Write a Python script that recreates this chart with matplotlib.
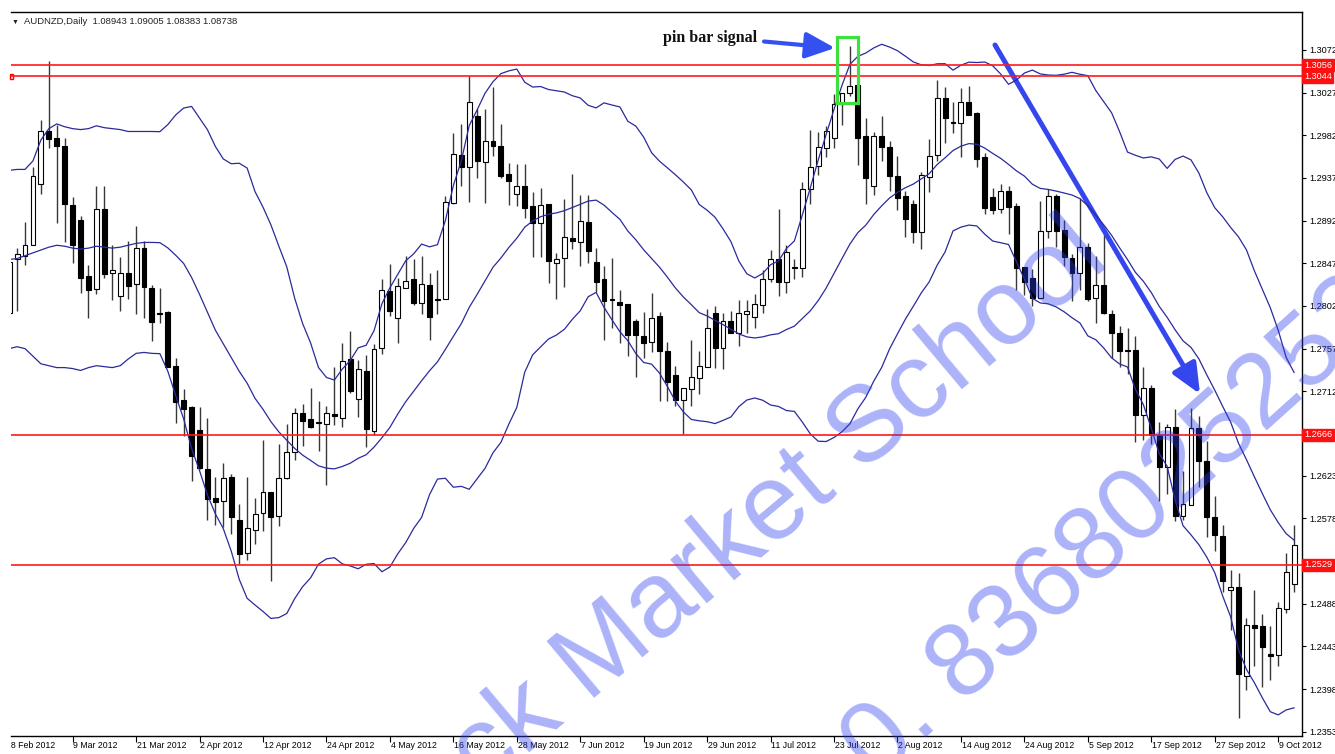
import matplotlib
matplotlib.use('Agg')
import matplotlib.pyplot as plt
import numpy as np
import pandas as pd
from matplotlib.patches import Rectangle
from matplotlib.transforms import Bbox, TransformedBbox, blended_transform_factory

plt.rcParams['font.family'] = ['Liberation Sans', 'DejaVu Sans']

# daily candles AUDNZD, 28 Feb 2012 .. 11 Oct 2012
opens = [1.2795, 1.2851, 1.2855, 1.2866, 1.2931, 1.2987, 1.2979, 1.2971, 1.2908, 1.2893,
         1.2834, 1.2820, 1.2904, 1.2837, 1.2812, 1.2837, 1.2825, 1.2863, 1.2821, 1.2795,
         1.2796, 1.2739, 1.2703, 1.2695, 1.2671, 1.2630, 1.2599, 1.2596, 1.2622, 1.2576,
         1.2541, 1.2566, 1.2584, 1.2606, 1.2580, 1.2621, 1.2648, 1.2689, 1.2683, 1.2680,
         1.2677, 1.2688, 1.2684, 1.2746, 1.2704, 1.2733, 1.2670, 1.2758, 1.2818, 1.2789,
         1.2821, 1.2830, 1.2805, 1.2824, 1.2809, 1.2809, 1.2911, 1.2961, 1.2949, 1.3002,
         1.2954, 1.2976, 1.2971, 1.2941, 1.2920, 1.2928, 1.2907, 1.2889, 1.2910, 1.2847,
         1.2853, 1.2874, 1.2869, 1.2891, 1.2848, 1.2830, 1.2809, 1.2806, 1.2804, 1.2786,
         1.2770, 1.2764, 1.2791, 1.2754, 1.2729, 1.2703, 1.2714, 1.2726, 1.2738, 1.2795,
         1.2758, 1.2786, 1.2773, 1.2794, 1.2790, 1.2803, 1.2830, 1.2852, 1.2827, 1.2843,
         1.2842, 1.2925, 1.2950, 1.2969, 1.2979, 1.3015, 1.3027, 1.3035, 1.2981, 1.2928,
         1.2981, 1.2970, 1.2939, 1.2918, 1.2910, 1.2880, 1.2938, 1.2961, 1.3021, 1.2996,
         1.2995, 1.3017, 1.3005, 1.2959, 1.2917, 1.2904, 1.2923, 1.2907, 1.2843, 1.2831,
         1.2810, 1.2881, 1.2918, 1.2882, 1.2853, 1.2837, 1.2864, 1.2810, 1.2824, 1.2794,
         1.2774, 1.2756, 1.2756, 1.2687, 1.2716, 1.2666, 1.2632, 1.2674, 1.2580, 1.2592,
         1.2673, 1.2638, 1.2579, 1.2559, 1.2502, 1.2506, 1.2412, 1.2466, 1.2464, 1.2435,
         1.2434, 1.2482, 1.2509]
highs = [1.2853, 1.2863, 1.2891, 1.2949, 1.2998, 1.3060, 1.2993, 1.2979, 1.2917, 1.2897,
         1.2845, 1.2928, 1.2929, 1.2866, 1.2854, 1.2870, 1.2886, 1.2870, 1.2824, 1.2821,
         1.2797, 1.2747, 1.2714, 1.2696, 1.2695, 1.2684, 1.2622, 1.2636, 1.2625, 1.2593,
         1.2622, 1.2600, 1.2661, 1.2606, 1.2656, 1.2678, 1.2694, 1.2699, 1.2715, 1.2702,
         1.2697, 1.2738, 1.2763, 1.2776, 1.2745, 1.2750, 1.2762, 1.2830, 1.2846, 1.2831,
         1.2855, 1.2851, 1.2855, 1.2837, 1.2840, 1.2918, 1.2984, 1.2994, 1.3044, 1.3010,
         1.3010, 1.3033, 1.2994, 1.2953, 1.2952, 1.2952, 1.2922, 1.2926, 1.2910, 1.2858,
         1.2915, 1.2941, 1.2919, 1.2919, 1.2863, 1.2844, 1.2853, 1.2819, 1.2804, 1.2788,
         1.2796, 1.2816, 1.2796, 1.2764, 1.2739, 1.2716, 1.2766, 1.2754, 1.2799, 1.2802,
         1.2795, 1.2797, 1.2808, 1.2808, 1.2815, 1.2840, 1.2861, 1.2904, 1.2866, 1.2852,
         1.2933, 1.2988, 1.2985, 1.2992, 1.3026, 1.3027, 1.3076, 1.3035, 1.3000, 1.2985,
         1.3002, 1.2976, 1.2960, 1.2923, 1.2914, 1.2943, 1.2978, 1.3040, 1.3033, 1.3017,
         1.3032, 1.3034, 1.3007, 1.2963, 1.2926, 1.2931, 1.2929, 1.2911, 1.2843, 1.2841,
         1.2913, 1.2925, 1.2920, 1.2893, 1.2857, 1.2916, 1.2868, 1.2855, 1.2877, 1.2798,
         1.2781, 1.2779, 1.2770, 1.2738, 1.2719, 1.2680, 1.2677, 1.2693, 1.2628, 1.2694,
         1.2686, 1.2660, 1.2602, 1.2571, 1.2524, 1.2520, 1.2473, 1.2502, 1.2477, 1.2464,
         1.2490, 1.2542, 1.2571]
lows = [1.2791, 1.2797, 1.2845, 1.2866, 1.2920, 1.2969, 1.2889, 1.2869, 1.2847, 1.2816,
        1.2789, 1.2815, 1.2831, 1.2808, 1.2797, 1.2809, 1.2794, 1.2789, 1.2765, 1.2784,
        1.2738, 1.2679, 1.2665, 1.2617, 1.2630, 1.2576, 1.2571, 1.2569, 1.2562, 1.2530,
        1.2534, 1.2551, 1.2565, 1.2512, 1.2570, 1.2619, 1.2640, 1.2654, 1.2673, 1.2649,
        1.2613, 1.2676, 1.2674, 1.2710, 1.2685, 1.2653, 1.2666, 1.2751, 1.2791, 1.2763,
        1.2821, 1.2803, 1.2794, 1.2766, 1.2793, 1.2809, 1.2910, 1.2929, 1.2912, 1.2937,
        1.2911, 1.2960, 1.2937, 1.2908, 1.2907, 1.2895, 1.2854, 1.2854, 1.2826, 1.2809,
        1.2822, 1.2862, 1.2844, 1.2847, 1.2817, 1.2766, 1.2779, 1.2763, 1.2749, 1.2727,
        1.2747, 1.2753, 1.2702, 1.2702, 1.2697, 1.2667, 1.2697, 1.2709, 1.2738, 1.2737,
        1.2736, 1.2773, 1.2760, 1.2773, 1.2779, 1.2795, 1.2827, 1.2812, 1.2816, 1.2830,
        1.2833, 1.2909, 1.2940, 1.2959, 1.2969, 1.2993, 1.3023, 1.2951, 1.2910, 1.2919,
        1.2955, 1.2923, 1.2903, 1.2875, 1.2868, 1.2862, 1.2922, 1.2955, 1.2974, 1.2984,
        1.2959, 1.3003, 1.2949, 1.2899, 1.2899, 1.2900, 1.2878, 1.2819, 1.2814, 1.2802,
        1.2810, 1.2874, 1.2864, 1.2844, 1.2807, 1.2819, 1.2807, 1.2784, 1.2793, 1.2747,
        1.2738, 1.2730, 1.2659, 1.2661, 1.2656, 1.2596, 1.2604, 1.2575, 1.2576, 1.2592,
        1.2611, 1.2558, 1.2544, 1.2500, 1.2460, 1.2367, 1.2397, 1.2422, 1.2400, 1.2408,
        1.2422, 1.2478, 1.2500]
closes = [1.2848, 1.2857, 1.2866, 1.2939, 1.2987, 1.2978, 1.2971, 1.2909, 1.2866, 1.2831,
          1.2819, 1.2904, 1.2836, 1.2840, 1.2837, 1.2823, 1.2863, 1.2822, 1.2785, 1.2794,
          1.2738, 1.2701, 1.2693, 1.2644, 1.2631, 1.2598, 1.2595, 1.2621, 1.2579, 1.2540,
          1.2568, 1.2583, 1.2606, 1.2579, 1.2621, 1.2648, 1.2689, 1.2681, 1.2674, 1.2679,
          1.2689, 1.2686, 1.2744, 1.2712, 1.2735, 1.2672, 1.2757, 1.2819, 1.2797, 1.2823,
          1.2828, 1.2805, 1.2825, 1.2790, 1.2808, 1.2912, 1.2962, 1.2949, 1.3017, 1.2955,
          1.2976, 1.2971, 1.2939, 1.2934, 1.2929, 1.2905, 1.2889, 1.2908, 1.2849, 1.2852,
          1.2875, 1.2871, 1.2892, 1.2860, 1.2827, 1.2807, 1.2808, 1.2803, 1.2771, 1.2771,
          1.2763, 1.2789, 1.2754, 1.2722, 1.2703, 1.2716, 1.2727, 1.2739, 1.2779, 1.2758,
          1.2786, 1.2773, 1.2795, 1.2797, 1.2804, 1.2830, 1.2851, 1.2827, 1.2859, 1.2842,
          1.2925, 1.2949, 1.2970, 1.2986, 1.3015, 1.3027, 1.3034, 1.2979, 1.2937, 1.2981,
          1.2970, 1.2939, 1.2916, 1.2894, 1.2880, 1.2940, 1.2960, 1.3021, 1.3000, 1.2995,
          1.3017, 1.3003, 1.2957, 1.2905, 1.2903, 1.2923, 1.2906, 1.2842, 1.2827, 1.2810,
          1.2881, 1.2918, 1.2881, 1.2854, 1.2837, 1.2864, 1.2809, 1.2824, 1.2795, 1.2773,
          1.2755, 1.2755, 1.2687, 1.2716, 1.2666, 1.2632, 1.2674, 1.2580, 1.2593, 1.2673,
          1.2638, 1.2579, 1.2560, 1.2512, 1.2506, 1.2414, 1.2466, 1.2462, 1.2442, 1.2433,
          1.2484, 1.2521, 1.2550]

# bollinger band values of the first 19 bars (need data before the window)
early_upper = [1.2945, 1.2946, 1.2946, 1.2955, 1.2977, 1.2989, 1.2994, 1.2991, 1.2989, 1.2988,
               1.2989, 1.2992, 1.2990, 1.2989, 1.2988, 1.2986, 1.2986, 1.2986, 1.2986]
early_mid = [1.2851, 1.2852, 1.2855, 1.2858, 1.2861, 1.2864, 1.2866, 1.2865, 1.2863, 1.2862,
             1.2863, 1.2865, 1.2864, 1.2863, 1.2864, 1.2866, 1.2868, 1.2869, 1.2869]
early_lower = [1.2757, 1.2759, 1.2757, 1.2749, 1.2741, 1.2739, 1.2737, 1.2737, 1.2736, 1.2734,
               1.2737, 1.2739, 1.2738, 1.2737, 1.2739, 1.2746, 1.2752, 1.2753, 1.2752]

date_labels = ["28 Feb 2012", "9 Mar 2012", "21 Mar 2012", "2 Apr 2012", "12 Apr 2012",
               "24 Apr 2012", "4 May 2012", "16 May 2012", "28 May 2012", "7 Jun 2012",
               "19 Jun 2012", "29 Jun 2012", "11 Jul 2012", "23 Jul 2012", "2 Aug 2012",
               "14 Aug 2012", "24 Aug 2012", "5 Sep 2012", "17 Sep 2012", "27 Sep 2012",
               "9 Oct 2012"]
price_ticks = [1.3072, 1.3027, 1.2982, 1.2937, 1.2892, 1.2847, 1.2802, 1.2757, 1.2712,
               1.2623, 1.2578, 1.2488, 1.2443, 1.2398, 1.2353]
levels = [1.3056, 1.3044, 1.2666, 1.2529]

W, H = 1335, 754
def fx(x):
    return x / W
def fy(y):
    return 1 - y / H

fig = plt.figure(figsize=(W / 100, H / 100), dpi=100)
ax = fig.add_axes([fx(11), fy(736), (1302 - 11) / W, (736 - 12) / H])
ax.set_xlim(0.23, 163.0)
ax.set_ylim(1.23485, 1.3112)

o = np.array(opens)
h = np.array(highs)
l = np.array(lows)
c = np.array(closes)
idx = np.arange(len(c))
up = c >= o

# wicks and bodies
ax.vlines(idx, l, h, color='#383838', lw=1, zorder=2)
ax.bar(idx, np.maximum(np.abs(c - o), 0.00002), bottom=np.minimum(o, c), width=0.62,
       color=np.where(up, 'white', 'black'), edgecolor='black', linewidth=0.8, zorder=3)

# bollinger bands (20, 2)
s = pd.Series(c)
mid = s.rolling(20).mean().to_numpy()
sd = s.rolling(20).std(ddof=0).to_numpy()
upper = mid + 2 * sd
lower = mid - 2 * sd
mid[:19] = early_mid
upper[:19] = early_upper
lower[:19] = early_lower
for band in (upper, mid, lower):
    ax.plot(idx, band, color='#2a2a9c', lw=0.9, zorder=4)

# horizontal levels
for lv in levels:
    ax.axhline(lv, color='#ff1a1a', lw=1.2, zorder=5)
ax.add_patch(Rectangle((fx(10), fy(79)), 3 / W, 5 / H, transform=fig.transFigure,
                       fill=False, ec='red', lw=1, clip_on=False))

# axes frame
ax.spines['left'].set_visible(False)
for sp in ('top', 'right', 'bottom'):
    ax.spines[sp].set_linewidth(1)
ax.yaxis.tick_right()
ax.set_yticks(price_ticks)
ax.set_yticklabels(['%.4f' % v for v in price_ticks])
ax.tick_params(axis='y', direction='out', length=3, labelsize=6.6, pad=2, colors='black')
ax.set_xticks(np.arange(8, 161, 8))
ax.tick_params(axis='x', direction='out', length=4, labelbottom=False)

# red level labels on the price scale
tr = blended_transform_factory(ax.transAxes, ax.transData)
for lv in levels:
    ax.text(1.0015, lv, '%.4f' % lv, transform=tr, ha='left', va='center', fontsize=6.6,
            color='white', clip_on=False, zorder=6,
            bbox=dict(boxstyle='square,pad=0.18', fc='#ff1010', ec='#ff1010'))

# date labels
trx = blended_transform_factory(ax.transData, ax.transAxes)
for j, lab in enumerate(date_labels):
    k = 8 * j
    if k == 0:
        t = fig.text(fx(6.5), fy(745), lab, ha='left', va='center', fontsize=6.3)
        t.set_clip_box(TransformedBbox(Bbox.from_extents(fx(11), 0, 1, 1), fig.transFigure))
        t.set_clip_on(True)
    else:
        ax.text(k + 0.1, -9 / 724, lab, transform=trx, ha='left', va='center',
                fontsize=6.3, clip_on=False)

# header
fig.text(fx(12), fy(22), '\u25bc', fontsize=5, va='center', ha='left', color='#222222')
fig.text(fx(24), fy(22), 'AUDNZD,Daily  1.08943 1.09005 1.08383 1.08738',
         fontsize=6.8, va='center', ha='left', color='#222222')

# pin bar annotation
fig.add_artist(Rectangle((fx(837), fy(103)), (858 - 837) / W, (103 - 37) / H,
                         transform=fig.transFigure, fill=False, ec='#3ee03e', lw=2.3))
fig.text(fx(663), fy(38), 'pin bar signal', family='Liberation Serif', fontweight='bold',
         fontsize=11.5, ha='left', va='center', color='#111111')
ax.annotate('', xy=(fx(835), fy(48)), xytext=(fx(764), fy(41.5)), xycoords='figure fraction',
            arrowprops=dict(arrowstyle='-|>,head_length=0.9,head_width=0.4', color='#3550f0',
                            lw=3, mutation_scale=20, shrinkA=0, shrinkB=0))

# trend arrow
ax.annotate('', xy=(fx(1200), fy(394)), xytext=(fx(995), fy(45)), xycoords='figure fraction',
            arrowprops=dict(arrowstyle='-|>,head_length=0.9,head_width=0.4', color='#3546ef',
                            lw=3.6, mutation_scale=20, shrinkA=0, shrinkB=0))

# watermark
fig.text(fx(1112), fy(264), 'Stock Market School', rotation=40, rotation_mode='anchor',
         ha='right', va='baseline', fontsize=77, color='#2f3fef', alpha=0.4, zorder=10)
fig.text(fx(876), fy(782), '0. 8368025252', rotation=42, rotation_mode='anchor',
         ha='left', va='baseline', fontsize=75, color='#2f3fef', alpha=0.4, zorder=10)

fig.savefig('out.png', dpi=100)
